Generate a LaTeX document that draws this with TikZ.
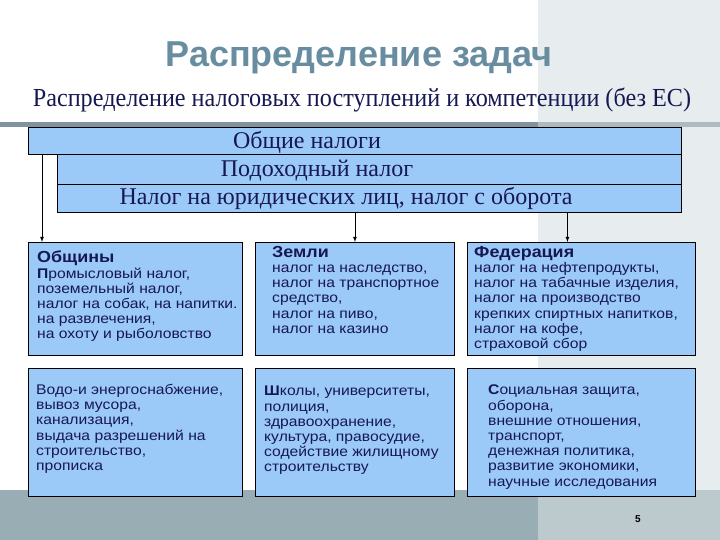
\documentclass[tikz,border=0pt]{standalone}
\usepackage{fontspec}
\setmainfont{Liberation Serif}
\newfontfamily\arialfont{Liberation Sans}
\newfontfamily\arialwide[FakeStretch=1.12]{Liberation Sans}
\newfontfamily\timesnarrow[FakeStretch=0.93]{Liberation Serif}
\usetikzlibrary{positioning}
\newcommand\hdfont{\arialwide\bfseries\fontsize{16}{17}\selectfont}

\definecolor{boxblue}{RGB}{155,201,248}
\definecolor{navy}{RGB}{22,24,82}
\definecolor{titlegray}{RGB}{104,140,160}
\definecolor{panelgray}{RGB}{231,236,238}
\definecolor{barleft}{RGB}{128,148,160}
\definecolor{barright}{RGB}{175,186,192}
\definecolor{bandleft}{RGB}{152,174,180}
\definecolor{bandright}{RGB}{188,202,206}

\begin{document}
\begin{tikzpicture}[x=1pt,y=-1pt,
	box/.style={draw=black, fill=boxblue, line width=0.9pt, anchor=north west, inner sep=0pt},
	toptxt/.style={text=navy, font=\fontsize{24}{26}\selectfont, inner sep=0pt, anchor=base},
	boxtxt/.style={text=navy, font=\arialwide\fontsize{14}{15.2}\selectfont, align=left, anchor=north west, inner sep=0pt},
	arr/.style={-latex, line width=0.8pt}]
		\useasboundingbox (0,0) rectangle (720,540);
		\fill[panelgray] (538,0) rectangle (720,490);
		\fill[barleft] (0,122) rectangle (538,127);
		\fill[barright] (538,122) rectangle (720,127);
		\fill[bandleft] (0,490) rectangle (538,540);
		\fill[bandright] (538,490) rectangle (720,540);

		\node[text=titlegray, font=\arialfont\bfseries\fontsize{36}{40}\selectfont, anchor=base, inner sep=0pt] (title) at (359,67) {Распределение задач};
		\node[text=navy, font=\timesnarrow\fontsize{26}{28}\selectfont, anchor=base, inner sep=0pt] (sub) at (362,107) {Распределение налоговых поступлений и компетенции (без ЕС)};

		\node[box, minimum width=653pt, minimum height=27pt] (gen) at (28,127) {};
		\node[box, minimum width=624pt, minimum height=30pt] (inc) at (57,154) {};
		\node[box, minimum width=624pt, minimum height=28pt] (corp) at (57,184) {};
		\node[toptxt] (genT) at (307,148.5) {Общие налоги};
		\node[toptxt] (incT) at (317,177) {Подоходный налог};
		\node[toptxt] (corpT) at (346,204.5) {Налог на юридических лиц, налог с оборота};

		\node[box, minimum width=214pt, minimum height=113pt] (comm) at (28,242) {};
		\node[box, minimum width=199pt, minimum height=113pt] (lands) at (255,242) {};
		\node[box, minimum width=228pt, minimum height=113pt] (fed) at (467,242) {};
		\node[box, minimum width=214pt, minimum height=128pt] (commB) at (28,368) {};
		\node[box, minimum width=199pt, minimum height=128pt] (landsB) at (255,368) {};
		\node[box, minimum width=228pt, minimum height=128pt] (fedB) at (467,368) {};

		\draw[arr] ([xshift=14pt]gen.south west) -- ([xshift=14pt]comm.north west);
		\draw[arr] (corp.south -| lands.north) -- (lands.north);
		\draw[arr] ([xshift=-14pt]corp.south -| fed.north) -- ([xshift=-14pt]fed.north);

		\node[boxtxt] (commT) at (37,251) {{\hdfont Общины}\\\textbf{П}ромысловый налог,\\поземельный налог,\\налог на собак, на напитки.\\на развлечения,\\на охоту и рыболовство};
		\node[boxtxt] (landsT) at (272,246) {{\hdfont Земли}\\налог на наследство,\\налог на транспортное\\средство,\\налог на пиво,\\налог на казино};
		\node[boxtxt] (fedT) at (474,246) {{\hdfont Федерация}\\налог на нефтепродукты,\\налог на табачные изделия,\\налог на производство\\крепких спиртных напитков,\\налог на кофе,\\страховой сбор};

		\node[boxtxt] (commBT) at (36,384) {Водо-и энергоснабжение,\\вывоз мусора,\\канализация,\\выдача разрешений на\\строительство,\\прописка};
		\node[boxtxt] (landsBT) at (264,386) {\textbf{Ш}колы, университеты,\\полиция,\\здравоохранение,\\культура, правосудие,\\содействие жилищному\\строительству};
		\node[boxtxt] (fedBT) at (488,385) {\textbf{С}оциальная защита,\\оборона,\\внешние отношения,\\транспорт,\\денежная политика,\\развитие экономики,\\научные исследования};

		\node[font=\arialfont\bfseries\fontsize{10}{12}\selectfont, inner sep=0pt] (page) at (638,519) {5};
	\end{tikzpicture}
\end{document}
